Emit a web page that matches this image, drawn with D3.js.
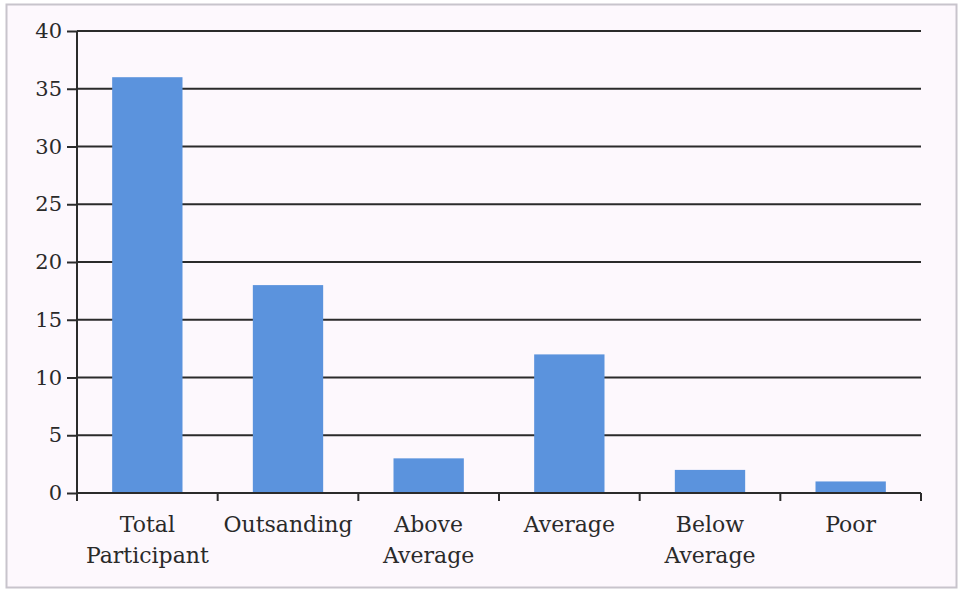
<!DOCTYPE html>
<html>
<head>
<meta charset="utf-8">
<script src="https://cdn.jsdelivr.net/npm/d3@7"></script>
<style>
  body { margin: 0; background: #fff; }
  svg { display: block; }
</style>
</head>
<body>
<svg id="chart"></svg>
<script>
var categories = [["Total", "Participant"], ["Outsanding"], ["Above", "Average"], ["Average"], ["Below", "Average"], ["Poor"]];
var values = [36, 18, 3, 12, 2, 1];
var yTicks = [0, 5, 10, 15, 20, 25, 30, 35, 40];

var W = 963, H = 593;
var svg = d3.select("#chart").attr("width", W).attr("height", H);

// page border
svg.append("rect")
    .attr("x", 6.5).attr("y", 4.5)
    .attr("width", 950).attr("height", 583)
    .attr("fill", "#fdf8fd")
    .attr("stroke", "#c8c4cc")
    .attr("stroke-width", 2);

// note: "top" clashes with window.top, so use plot* names
var plotL = 77, plotR = 921, plotT = 31, plotB = 493;
var idx = d3.range(values.length);

var x = d3.scaleBand()
    .domain(idx)
    .range([plotL, plotR])
    .paddingInner(0.5)
    .paddingOuter(0.25);

var y = d3.scaleLinear()
    .domain([0, 40])
    .range([plotB, plotT]);

var g = svg.append("g");

// gridlines
g.selectAll(".grid")
    .data(yTicks.slice(1))
    .enter().append("line")
    .attr("x1", plotL).attr("x2", plotR)
    .attr("y1", d => y(d)).attr("y2", d => y(d))
    .attr("stroke", "#2b2b2b")
    .attr("stroke-width", 2);

// bars
g.selectAll(".bar")
    .data(values)
    .enter().append("rect")
    .attr("x", (d, i) => x(i))
    .attr("width", x.bandwidth())
    .attr("y", d => y(d))
    .attr("height", d => plotB - y(d))
    .attr("fill", "#5b93dd");

// y axis
var yAxis = g.append("g")
    .attr("transform", "translate(" + plotL + ",0)")
    .call(d3.axisLeft(y).tickValues(yTicks).tickSize(10).tickPadding(5));
yAxis.selectAll("path, line").attr("stroke", "#2b2b2b").attr("stroke-width", 2);
yAxis.select(".domain").attr("d", "M0," + (plotB + 8) + "V" + plotT);
yAxis.selectAll("text")
    .attr("font-family", "DejaVu Serif")
    .attr("font-size", 21)
    .attr("fill", "#2a2a2a");

// x axis with tick marks between categories
var xAxis = g.append("g").attr("transform", "translate(0," + plotB + ")");
xAxis.append("line")
    .attr("x1", plotL).attr("x2", plotR)
    .attr("stroke", "#2b2b2b").attr("stroke-width", 2);
var step = x.step();
xAxis.selectAll(".xt")
    .data(d3.range(values.length + 1))
    .enter().append("line")
    .attr("x1", i => plotL + i * step)
    .attr("x2", i => plotL + i * step)
    .attr("y1", 0).attr("y2", 8)
    .attr("stroke", "#2b2b2b").attr("stroke-width", 2);

// category labels
var labels = xAxis.selectAll(".lab")
    .data(categories)
    .enter().append("text")
    .attr("x", (d, i) => x(i) + x.bandwidth() / 2)
    .attr("y", 39)
    .attr("text-anchor", "middle")
    .attr("font-family", "DejaVu Serif")
    .attr("font-size", 22)
    .attr("fill", "#2a2a2a");
labels.selectAll("tspan")
    .data(d => d)
    .enter().append("tspan")
    .attr("x", function () { return d3.select(this.parentNode).attr("x"); })
    .attr("dy", (d, i) => i === 0 ? 0 : 31)
    .text(d => d);
</script>
</body>
</html>
